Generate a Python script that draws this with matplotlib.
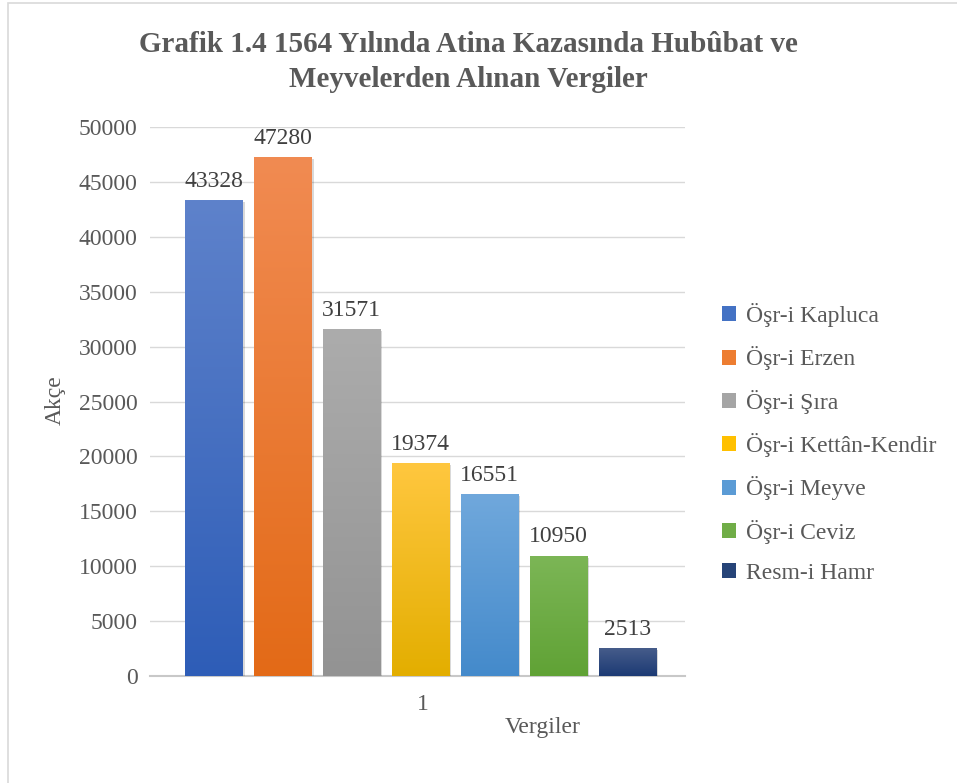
import numpy as np
import matplotlib
matplotlib.use('Agg')
import matplotlib.pyplot as plt
from matplotlib.colors import LinearSegmentedColormap
from matplotlib.patches import Rectangle
from matplotlib import patheffects as pe

plt.rcParams['font.family'] = ['Liberation Serif', 'DejaVu Serif']

# data
categories = ['Öşr-i Kapluca', 'Öşr-i Erzen', 'Öşr-i Şıra', 'Öşr-i Kettân-Kendir',
              'Öşr-i Meyve', 'Öşr-i Ceviz', 'Resm-i Hamr']
values = [43328, 47280, 31571, 19374, 16551, 10950, 2513]
top_colors = ['#5E82CB', '#F18B52', '#ACACAC', '#FFC73F', '#70A8DC', '#7CB656', '#465C8A']
bottom_colors = ['#2E5DB7', '#E36A17', '#939393', '#E3AE00', '#448ACB', '#60A235', '#1C3A74']
mid_colors = ['#4472C4', '#ED7D31', '#A5A5A5', '#FFC000', '#5B9BD5', '#70AD47', '#264478']
yticks = [0, 5000, 10000, 15000, 20000, 25000, 30000, 35000, 40000, 45000, 50000]

gray_text = '#595959'
fs = 17

fig = plt.figure(figsize=(9.57, 7.83), dpi=100)
ax = fig.add_axes([150/957, 1-676/783, 535/957, 549/783])

x = np.arange(len(values)) - 3
bars = ax.bar(x, values, width=0.83, color=mid_colors, zorder=3,
              path_effects=[pe.SimplePatchShadow(offset=(1.5, -1.5), alpha=0.15, shadow_rgbFace='black'),
                            pe.Normal()])

# vertical gradient on each bar
for b, c0, c1 in zip(bars, top_colors, bottom_colors):
    cmap = LinearSegmentedColormap.from_list('g', [c1, c0])
    grad = np.linspace(0, 1, 256).reshape(-1, 1)
    x0, y0 = b.get_x(), b.get_y()
    im = ax.imshow(grad, cmap=cmap, origin='lower', aspect='auto', zorder=4,
                   extent=[x0, x0 + b.get_width(), y0, y0 + b.get_height()])
    im.set_clip_path(b)

for xi, v in zip(x, values):
    ax.annotate(str(v), (xi, v), xytext=(0, 6), textcoords='offset points',
                ha='center', va='bottom', fontsize=fs, color='#404040', zorder=5)

ax.set_xlim(-3.93, 3.84)
ax.set_ylim(0, 50000)
ax.set_yticks(yticks)
ax.set_yticklabels([str(t) for t in yticks], fontsize=fs, color=gray_text)
ax.set_xticks([0.04])
ax.set_xticklabels(['1'], fontsize=fs, color=gray_text)
ax.tick_params(axis='y', length=0, pad=9)
ax.tick_params(axis='x', length=0, pad=13)
ax.grid(axis='y', color='#D9D9D9', linewidth=1, zorder=0)
ax.set_axisbelow(True)
for s in ['top', 'right', 'left']:
    ax.spines[s].set_visible(False)
ax.spines['bottom'].set_color('#C8C8C8')
ax.spines['bottom'].set_linewidth(1.5)

fig.text(55/957, 1-400/783, 'Akçe', rotation=90, ha='center', va='center', fontsize=fs, color=gray_text)
fig.text(543/957, 1-727/783, 'Vergiler', ha='center', va='center', fontsize=fs, color=gray_text)

fig.text(468/957, 1-62/783,
         'Grafik 1.4 1564 Yılında Atina Kazasında Hubûbat ve\nMeyvelerden Alınan Vergiler',
         ha='center', va='center', fontsize=21, fontweight='bold', color=gray_text, linespacing=1.4)

handles = [Rectangle((0, 0), 1, 1, facecolor=c, edgecolor='none') for c in mid_colors]
fig.legend(handles, categories, loc='upper left', bbox_to_anchor=(722/957, 1-303/783),
           frameon=False, fontsize=fs, labelcolor=gray_text, handlelength=0.6, handleheight=0.6,
           handletextpad=0.4, labelspacing=0.82, borderpad=0, borderaxespad=0)

# outer chart border
fig.patches.append(Rectangle((8/957, -0.05), 1.1, 1 - 3/783 + 0.05, transform=fig.transFigure,
                             fill=False, edgecolor='#D9D9D9', linewidth=1.2))

fig.savefig('out.png', dpi=100)
